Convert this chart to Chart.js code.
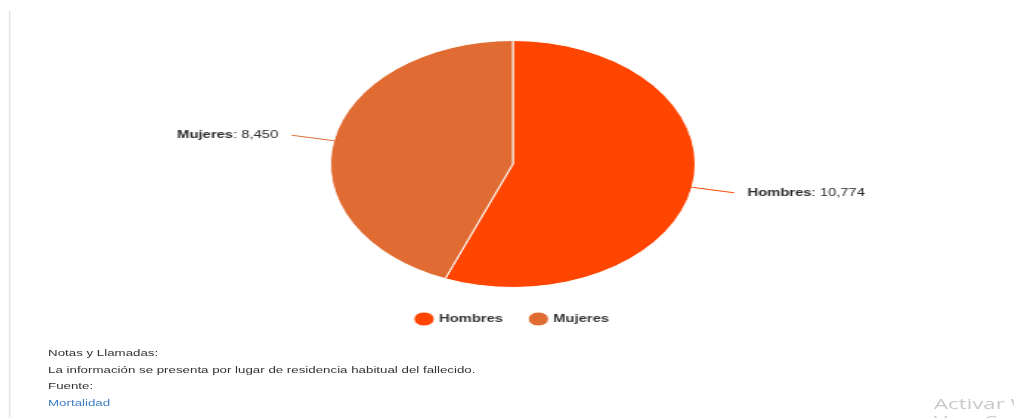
<!DOCTYPE html>
<html>
<head>
<meta charset="utf-8">
<title>Defunciones por sexo</title>
<script src="https://cdn.jsdelivr.net/npm/chart.js"></script>
<style>
  html, body { margin: 0; padding: 0; background: #fff; width: 1014px; height: 418px; overflow: hidden; }
  /* la captura original esta estirada en horizontal */
  #lienzo { position: absolute; left: 0; top: 0; width: 686px; height: 418px;
            transform: scaleX(1.478); transform-origin: 0 0;
            font-family: "Liberation Sans", Arial, sans-serif; }
  #borde { position: absolute; left: 6px; top: 11px; width: 1.4px; height: 420px; background: #e6e6e6; }
  #grafica { position: absolute; left: 0; top: 0; width: 694px; height: 340px; }
  #notas { position: absolute; left: 32.5px; top: 345px; font-size: 9px; color: #333; line-height: 16.5px; }
  #notas a { color: #3f7cc4; text-decoration: none; }
  #marca { position: absolute; left: 632px; top: 395px; font-family: "Open Sans", sans-serif;
           font-size: 15px; color: #c9c9c9; line-height: 17px; white-space: nowrap; }
</style>
</head>
<body>
<div id="lienzo">
  <div id="borde"></div>
  <div id="grafica"><canvas id="pastel"></canvas></div>
  <div id="notas">
    <div>Notas y Llamadas:</div>
    <div>La información se presenta por lugar de residencia habitual del fallecido.</div>
    <div>Fuente:</div>
    <div><a href="#">Mortalidad</a></div>
  </div>
  <div id="marca">Activar Windows<br>Ve a Configuración</div>
</div>

<script>
  // Datos
  var categorias = ["Hombres", "Mujeres"];
  var defunciones = [10774, 8450];
  var colores = ["#ff4500", "#e06c34"];

  Chart.defaults.font.family = "'Liberation Sans', Arial, sans-serif";

  // Etiquetas con linea conectora (estilo Highcharts)
  var etiquetas = {
    id: "etiquetas",
    afterDatasetsDraw: function (chart) {
      var ctx = chart.ctx;
      var meta = chart.getDatasetMeta(0);
      meta.data.forEach(function (arco, i) {
        var a = (arco.startAngle + arco.endAngle) / 2;
        var r = arco.outerRadius;
        var x0 = arco.x + Math.cos(a) * r, y0 = arco.y + Math.sin(a) * r;
        var x1 = arco.x + Math.cos(a) * (r + 29), y1 = arco.y + Math.sin(a) * (r + 29);
        var der = Math.cos(a) >= 0;
        ctx.save();
        ctx.strokeStyle = colores[i];
        ctx.lineWidth = 1;
        ctx.beginPath();
        ctx.moveTo(x0, y0);
        ctx.lineTo(x1, y1);
        ctx.stroke();

        var nombre = categorias[i];
        var valor = ": " + defunciones[i].toLocaleString("en-US");
        ctx.textBaseline = "middle";
        ctx.fillStyle = "#2b2b2b";
        ctx.font = "bold 10px 'Liberation Sans', Arial, sans-serif";
        var w1 = ctx.measureText(nombre).width;
        ctx.font = "10px 'Liberation Sans', Arial, sans-serif";
        var w2 = ctx.measureText(valor).width;
        var tx = der ? x1 + 9 : x1 - 9 - w1 - w2;
        ctx.textAlign = "left";
        ctx.font = "bold 10px 'Liberation Sans', Arial, sans-serif";
        ctx.fillText(nombre, tx, y1);
        ctx.font = "10px 'Liberation Sans', Arial, sans-serif";
        ctx.fillText(valor, tx + w1, y1);
        ctx.restore();
      });
    }
  };

  new Chart(document.getElementById("pastel"), {
    type: "pie",
    data: {
      labels: categorias,
      datasets: [{
        data: defunciones,
        backgroundColor: colores,
        borderColor: "#ffffff",
        borderWidth: 1,
        radius: 123.5
      }]
    },
    options: {
      responsive: true,
      maintainAspectRatio: false,
      animation: false,
      layout: { padding: { top: 33, bottom: 6 } },
      plugins: {
        tooltip: { enabled: false },
        legend: {
          position: "bottom",
          labels: {
            usePointStyle: true,
            pointStyle: "circle",
            boxWidth: 10,
            boxHeight: 10,
            padding: 19,
            color: "#333",
            font: { size: 10, weight: "bold" }
          }
        }
      }
    },
    plugins: [etiquetas]
  });
</script>
</body>
</html>
